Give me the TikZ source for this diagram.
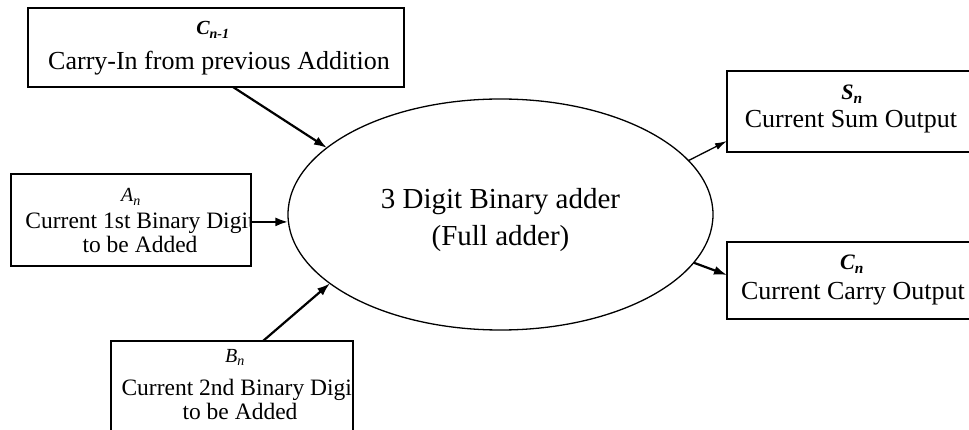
\documentclass[tikz,border=0pt]{standalone}
\usepackage{fontspec}
\setmainfont{Liberation Serif}
\usetikzlibrary{arrows.meta,shapes.geometric}

\begin{document}
\begin{tikzpicture}[x=1pt,y=-1pt,
  box/.style={draw, rectangle, line width=2pt, inner sep=0pt, outer sep=0pt, anchor=north west},
  txt/.style={inner sep=0pt, anchor=base, font=\fontsize{26}{30}\selectfont},
  pair/.style={inner sep=0pt, anchor=base, align=center, font=\fontsize{23.5}{24}\selectfont},
  sym/.style={inner sep=0pt, anchor=base, font=\fontsize{#1}{#1}\selectfont\bfseries\itshape},
  symi/.style={inner sep=0pt, anchor=base, font=\fontsize{#1}{#1}\selectfont\itshape},
  arr/.style={-{Latex[length=13pt,width=9pt]}, line width=2.2pt},
  arrthin/.style={-{Latex[length=12pt,width=7pt]}, line width=1.3pt}]

% canvas
\clip (0,0) rectangle (969,430);
\fill[white] (0,0) rectangle (969,430);

% the adder
\node[draw, ellipse, line width=1.3pt, minimum width=425pt, minimum height=231pt,
      inner sep=0pt, outer sep=0pt, align=center,
      font=\fontsize{29}{37}\selectfont] (add) at (500.5,214.5)
      {\rule{0pt}{32pt}3 Digit Binary adder\\(Full adder)};

% input boxes
\node[box, minimum width=376pt, minimum height=79pt] (cin) at (28,8) {};
\node[sym=20] (cinlbl) at (213,35) {C\textsubscript{n-1}};
\node[txt] (cintxt) at (219,70) {Carry-In from previous Addition};

\node[box, minimum width=240pt, minimum height=92pt] (abox) at (11,174) {};
\node[symi=20] (albl) at (131,202) {A\textsubscript{n}};
\begin{scope}
  \clip (abox.north west) rectangle ([xshift=-1pt]abox.south east);
  \node[pair] (atxt) at (140,253) {Current 1st Binary Digit\\to be Added};
\end{scope}

\node[box, minimum width=242pt, minimum height=110pt] (bbox) at (111,341) {};
\node[symi=20] (blbl) at (235,362) {B\textsubscript{n}};
\begin{scope}
  \clip (bbox.north west) rectangle ([xshift=-1pt]bbox.south east);
  \node[pair] (btxt) at (240,419) {Current 2nd Binary Digit\\to be Added};
\end{scope}

% output boxes
\node[box, minimum width=252pt, minimum height=81pt] (sbox) at (727,71) {};
\node[sym=22] (slbl) at (852,100) {S\textsubscript{n}};
\node[txt] (stxt) at (851,128) {Current Sum Output};

\node[box, minimum width=252pt, minimum height=77pt] (cbox) at (727,242) {};
\node[sym=22] (clbl) at (852,270) {C\textsubscript{n}};
\node[txt] (ctxt) at (853,300) {Current Carry Output};

% connectors
\draw[arr] ([xshift=17pt]cin.south) -- (add.159);
\draw[arr, line width=2.8pt] (abox.east |- add.182) -- (add.182);
\draw[arr] ([xshift=31pt]bbox.north) -- (add.202);
\draw[arrthin] (add.16) -- ([yshift=-29.5pt]sbox.west);
\draw[arr] (add.346) -- ([yshift=5.5pt]cbox.west);
\end{tikzpicture}
\end{document}
